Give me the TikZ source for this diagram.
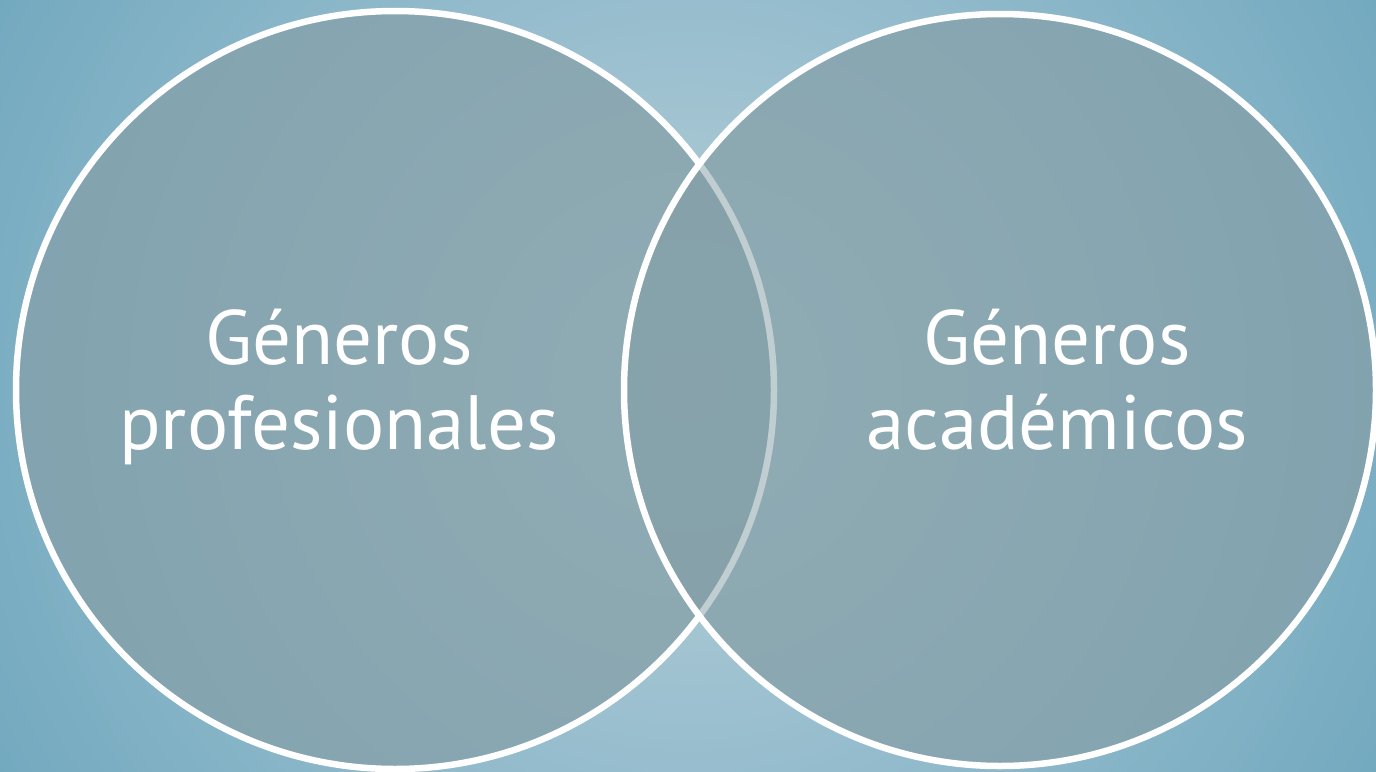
\documentclass[tikz,border=0pt]{standalone}
\usepackage{fontspec}
\setmainfont{PT Sans}
\definecolor{bgc}{RGB}{173,202,214}
\definecolor{bga}{RGB}{163,196,209}
\definecolor{bgb}{RGB}{154,191,207}
\definecolor{bgo}{RGB}{115,169,191}
\definecolor{vennfill}{RGB}{132,159,167}
\pgfdeclareradialshading{bgshade}{\pgfpoint{0bp}{0bp}}{color(0bp)=(bgc); color(7.8bp)=(bga); color(10.9bp)=(bgb); color(24.7bp)=(bgo); color(50bp)=(bgo)}
\begin{document}
\begin{tikzpicture}[x=1pt,y=-1pt,
  vennfillstyle/.style={fill=vennfill,fill opacity=0.72},
  vennline/.style={draw=white,line width=6.5pt},
  venntext/.style={text=white,font=\fontsize{77}{85}\selectfont,align=center,text depth=18pt}]
\useasboundingbox (0,0) rectangle (1376,771);
\begin{scope}
\clip (0,0) rectangle (1376,771);
\shade[shading=bgshade] (688,385) circle[radius=800];
\end{scope}
\coordinate (cl) at (395,390);
\coordinate (cr) at (1000,390);
\path[vennfillstyle] (cl) circle[radius=379];
\path[vennline] (cl) circle[radius=379];
\path[vennfillstyle] (cr) circle[radius=376];
\begin{scope}
\clip (cr) circle[radius=376];
\path[vennline,draw opacity=0.3] (cl) circle[radius=379];
\end{scope}
\path[vennline] (cr) circle[radius=376];
\node[venntext] (tl) at (339,388) {Géneros\\profesionales};
\node[venntext] (tr) at (1057,388) {Géneros\\académicos};
\end{tikzpicture}
\end{document}
